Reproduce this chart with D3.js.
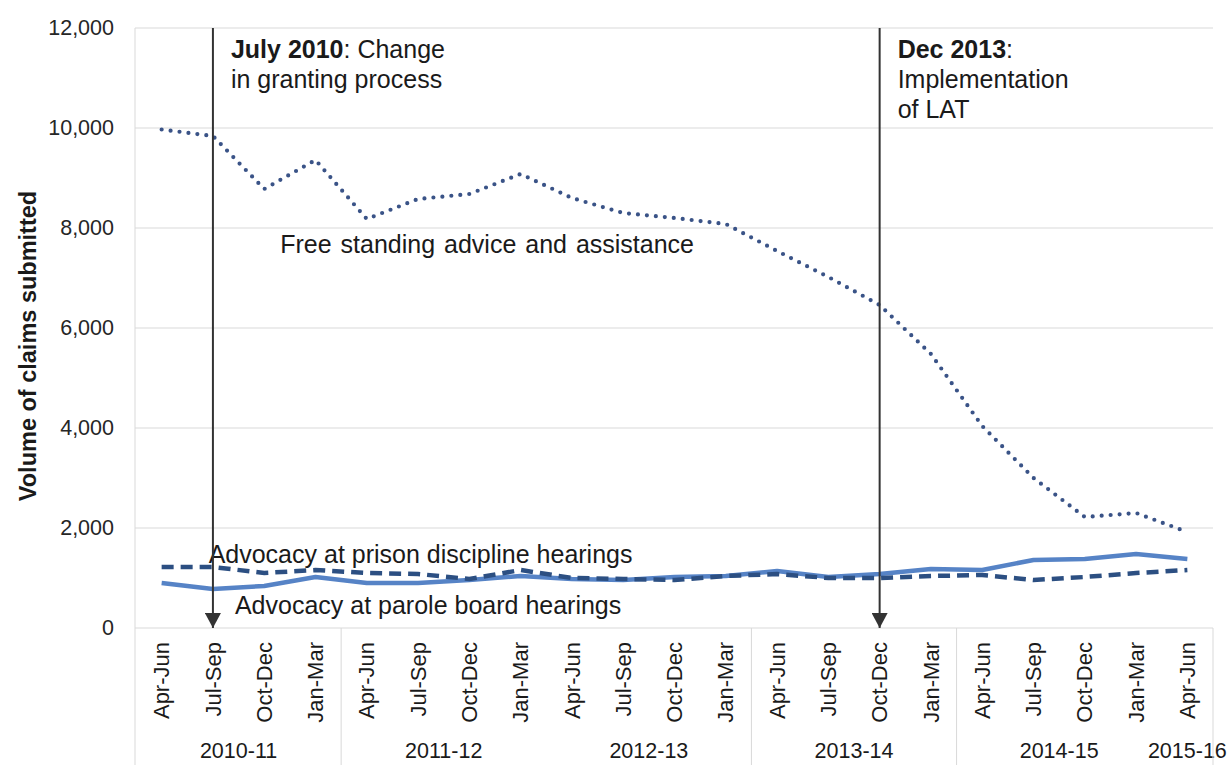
<!DOCTYPE html>
<html>
<head>
<meta charset="utf-8">
<script src="https://cdn.jsdelivr.net/npm/d3@7"></script>
<style>
    body { margin: 0; background: #fff; }
    text { font-family: "Liberation Sans", Arial, sans-serif; fill: #1a1a1a; }
</style>
</head>
<body>
<div id="chart"></div>
<script>
// quarters, Apr-Jun 2010 to Apr-Jun 2015
const quarters = ["Apr-Jun","Jul-Sep","Oct-Dec","Jan-Mar",
    "Apr-Jun","Jul-Sep","Oct-Dec","Jan-Mar",
    "Apr-Jun","Jul-Sep","Oct-Dec","Jan-Mar",
    "Apr-Jun","Jul-Sep","Oct-Dec","Jan-Mar",
    "Apr-Jun","Jul-Sep","Oct-Dec","Jan-Mar",
    "Apr-Jun"];
const yearGroups = ["2010-11","2011-12","2012-13","2013-14","2014-15","2015-16"];
const groupSizes = [4, 4, 4, 4, 4, 1];
// years followed by a divider line in the axis
const dividerAfter = ["2010-11","2012-13","2013-14"];

const freeStanding = [9970, 9840, 8780, 9360, 8180, 8580, 8680, 9080, 8600, 8300, 8200,
    8080, 7540, 7020, 6460, 5480, 4040, 3000, 2220, 2300, 1920];
const prisonDiscipline = [1220, 1220, 1100, 1160, 1100, 1080, 980, 1160, 1000, 980, 960,
    1040, 1080, 1000, 1000, 1040, 1060, 960, 1020, 1100, 1160];
const paroleBoard = [900, 780, 840, 1020, 900, 900, 960, 1040, 980, 960, 1020,
    1040, 1140, 1020, 1080, 1180, 1160, 1360, 1380, 1480, 1380];

const yTicks = [0, 2000, 4000, 6000, 8000, 10000, 12000];

const width = 1229, height = 765;
const plotLeft = 136, plotRight = 1213, plotTop = 28, plotBottom = 628;

const svg = d3.select("#chart").append("svg")
    .attr("width", width)
    .attr("height", height);

const x = d3.scaleBand()
    .domain(d3.range(quarters.length))
    .range([plotLeft, plotRight])
    .padding(0);

const y = d3.scaleLinear()
    .domain([0, 12000])
    .range([plotBottom, plotTop]);

const cx = i => x(i) + x.bandwidth() / 2;

// gridlines
svg.append("g")
    .selectAll("line")
    .data(yTicks)
    .enter().append("line")
    .attr("x1", plotLeft - 1)
    .attr("x2", plotRight)
    .attr("y1", d => y(d))
    .attr("y2", d => y(d))
    .attr("stroke", "#d9d9d9")
    .attr("stroke-width", 1);

// left border of plot
svg.append("line")
    .attr("x1", plotLeft - 1).attr("x2", plotLeft - 1)
    .attr("y1", plotTop).attr("y2", height)
    .attr("stroke", "#d9d9d9");

// y axis labels
let yAxis = d3.axisLeft(y)
    .tickValues(yTicks)
    .tickSize(0)
    .tickPadding(0)
    .tickFormat(d3.format(","));
svg.append("g")
    .attr("transform", `translate(${plotLeft - 22},0)`)
    .call(yAxis)
    .call(g => g.select(".domain").remove())
    .selectAll("text")
    .style("font-size", "21.5px")
    .style("fill", "#262626")
    .style("font-family", "'Liberation Sans', Arial, sans-serif");

// y axis title
svg.append("text")
    .attr("transform", `translate(36, 346) rotate(-90)`)
    .attr("text-anchor", "middle")
    .style("font-size", "23.5px")
    .style("font-weight", "bold")
    .text("Volume of claims submitted");

// category labels
svg.append("g")
    .selectAll("text")
    .data(quarters)
    .enter().append("text")
    .attr("transform", (d, i) => `translate(${cx(i)}, ${plotBottom + 14}) rotate(-90)`)
    .attr("text-anchor", "end")
    .attr("dy", "0.35em")
    .style("font-size", "22px")
    .text(d => d);

// year groups + dividers
let start = 0;
yearGroups.forEach((g, gi) => {
    let end = start + groupSizes[gi];
    let x0 = x(start), x1 = x(end - 1) + x.bandwidth();
    svg.append("text")
        .attr("x", (x0 + x1) / 2)
        .attr("y", 758)
        .attr("text-anchor", "middle")
        .style("font-size", "21.5px")
        .text(g);
    if (dividerAfter.includes(g)) {
        svg.append("line")
            .attr("x1", x1).attr("x2", x1)
            .attr("y1", plotBottom).attr("y2", height)
            .attr("stroke", "#d9d9d9");
    }
    start = end;
});
svg.append("line")
    .attr("x1", plotRight).attr("x2", plotRight)
    .attr("y1", plotBottom).attr("y2", height)
    .attr("stroke", "#d9d9d9");

// series
let line = d3.line()
    .x((d, i) => cx(i))
    .y(d => y(d));

svg.append("path")
    .datum(paroleBoard)
    .attr("d", line)
    .attr("fill", "none")
    .attr("stroke", "#5683c6")
    .attr("stroke-width", 4.5)
    .attr("stroke-linejoin", "round");

svg.append("path")
    .datum(prisonDiscipline)
    .attr("d", line)
    .attr("fill", "none")
    .attr("stroke", "#2c4f82")
    .attr("stroke-width", 4.5)
    .attr("stroke-dasharray", "12 7");

svg.append("path")
    .datum(freeStanding)
    .attr("d", line)
    .attr("fill", "none")
    .attr("stroke", "#3a5387")
    .attr("stroke-width", 4.2)
    .attr("stroke-linecap", "round")
    .attr("stroke-dasharray", "0 9");

// series labels
svg.append("text")
    .attr("x", cx(2) + 16)
    .attr("y", y(7500))
    .style("font-size", "25px")
    .style("word-spacing", "2px")
    .text("Free standing advice and assistance");

svg.append("text")
    .attr("x", cx(0) + 47)
    .attr("y", y(1300))
    .style("font-size", "25px")
    .text("Advocacy at prison discipline hearings");

svg.append("text")
    .attr("x", cx(1) + 22)
    .attr("y", y(280))
    .style("font-size", "25px")
    .text("Advocacy at parole board hearings");

// event markers
let defs = svg.append("defs");
defs.append("marker")
    .attr("id", "arrow")
    .attr("viewBox", "0 0 16 15")
    .attr("refX", 8)
    .attr("refY", 15)
    .attr("markerWidth", 16)
    .attr("markerHeight", 15)
    .attr("markerUnits", "userSpaceOnUse")
    .attr("orient", "0")
    .append("path")
    .attr("d", "M0,0 L16,0 L8,15 Z")
    .attr("fill", "#333");

const events = [
    {at: 1, bold: "July 2010", lines: [": Change", "in granting process"]},
    {at: 14, bold: "Dec 2013", lines: [":", "Implementation", "of LAT"]}
];

events.forEach(ev => {
    let ex = cx(ev.at);
    svg.append("line")
        .attr("x1", ex).attr("x2", ex)
        .attr("y1", y(12000)).attr("y2", y(0))
        .attr("stroke", "#333")
        .attr("stroke-width", 2)
        .attr("marker-end", "url(#arrow)");

    let t = svg.append("text")
        .attr("x", ex + 18)
        .attr("y", y(12000) + 30)
        .style("font-size", "25px");
    t.append("tspan").style("font-weight", "bold").text(ev.bold);
    t.append("tspan").text(ev.lines[0]);
    ev.lines.slice(1).forEach((l, i) => {
        svg.append("text")
            .attr("x", ex + 18)
            .attr("y", y(12000) + 30 * (i + 2))
            .style("font-size", "25px")
            .text(l);
    });
});
</script>
</body>
</html>
